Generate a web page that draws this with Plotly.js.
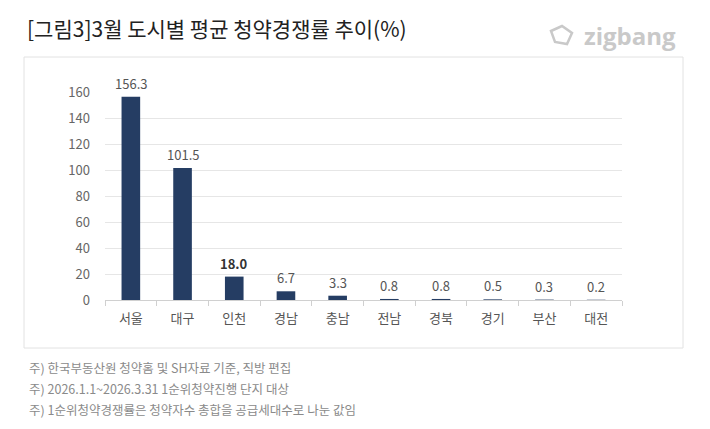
<!DOCTYPE html>
<html>
<head>
<meta charset="utf-8">
<script src="https://cdn.plot.ly/plotly-3.0.1.min.js"></script>
<style>html,body{margin:0;padding:0;background:#fff;}#chart{width:710px;height:429px;}</style>
</head>
<body>
<div id="chart"></div>
<script>
var categories = ['서울', '대구', '인천', '경남', '충남', '전남', '경북', '경기', '부산', '대전'];
var values = [156.3, 101.5, 18.0, 6.7, 3.3, 0.8, 0.8, 0.5, 0.3, 0.2];
var yTicks = [0, 20, 40, 60, 80, 100, 120, 140, 160];
var titleText = '[그림3]3월 도시별 평균 청약경쟁률 추이(%)';
var notes = [
  '주) 한국부동산원 청약홈 및 SH자료 기준, 직방 편집',
  '주) 2026.1.1~2026.3.31 1순위청약진행 단지 대상',
  '주) 1순위청약경쟁률은 청약자수 총합을 공급세대수로 나눈 값임'
];

var W = 710, H = 429;
var L = 105, R = 622, T = 92, B = 300;
function px(x) { return (x - L) / (R - L); }
function py(y) { return (B - y) / (B - T); }

var FONT = '"Noto Sans CJK KR", "Noto Sans", sans-serif';

var annotations = categories.map(function (c, i) {
  var t = values[i].toFixed(1);
  var bold = values[i] === 18.0;
  return {
    x: c, y: values[i], xref: 'x', yref: 'y',
    text: bold ? '<b>' + t + '</b>' : t,
    showarrow: false, yanchor: 'bottom', yshift: 2,
    font: {family: FONT, size: 13, color: bold ? '#333' : '#555'}
  };
});
notes.forEach(function (n, i) {
  annotations.push({
    xref: 'paper', yref: 'paper', x: px(27), y: py(367 + i * 21),
    xanchor: 'left', yanchor: 'middle', text: n, showarrow: false,
    font: {family: FONT, size: 12.5, color: '#8a8a8a'}
  });
});
annotations.push({
  xref: 'paper', yref: 'paper', x: px(678), y: py(35),
  xanchor: 'right', yanchor: 'middle', text: '<b>zigbang</b>', showarrow: false,
  font: {family: '"Open Sans", sans-serif', size: 24, color: '#c9c9c9'}
});

var shapes = [
  {type: 'rect', xref: 'paper', yref: 'paper', x0: px(24), x1: px(683), y0: py(348), y1: py(57),
   line: {color: '#e2e2e2', width: 1}, fillcolor: 'rgba(0,0,0,0)', layer: 'below'},
  {type: 'path', xref: 'paper', yref: 'paper',
   path: 'M ' + px(551) + ' ' + py(31) + ' L ' + px(562) + ' ' + py(26) + ' L ' + px(572) + ' ' + py(33) +
         ' L ' + px(567) + ' ' + py(44) + ' L ' + px(555) + ' ' + py(42) + ' Z',
   line: {color: '#c9c9c9', width: 2.5}, fillcolor: 'rgba(0,0,0,0)'}
];

var trace = {
  type: 'bar', x: categories, y: values,
  marker: {color: '#253d63'}, width: 0.36, hoverinfo: 'x+y'
};

var layout = {
  width: W, height: H,
  margin: {l: L, r: W - R, t: T, b: H - B},
  paper_bgcolor: '#fff', plot_bgcolor: '#fff',
  showlegend: false,
  title: {text: titleText, xref: 'container', yref: 'container', x: 27 / W, y: 1 - 30 / H,
          xanchor: 'left', yanchor: 'middle',
          font: {family: FONT, size: 21, color: '#222'}},
  xaxis: {
    type: 'category', showgrid: false, showline: true, linecolor: '#d0d0d0', linewidth: 1,
    ticks: 'outside', tickson: 'boundaries', ticklen: 5, tickcolor: '#d0d0d0',
    ticklabelstandoff: 6,
    tickfont: {family: FONT, size: 13, color: '#555'}, zeroline: false
  },
  yaxis: {
    range: [0, 160], tickvals: yTicks, ticktext: yTicks.map(String),
    showgrid: true, gridcolor: '#e6e6e6', zeroline: false, showline: false,
    ticks: '', ticklabelstandoff: 14,
    tickfont: {family: FONT, size: 13, color: '#666'}
  },
  annotations: annotations,
  shapes: shapes
};

Plotly.newPlot('chart', [trace], layout, {displayModeBar: false, staticPlot: true});
</script>
</body>
</html>
